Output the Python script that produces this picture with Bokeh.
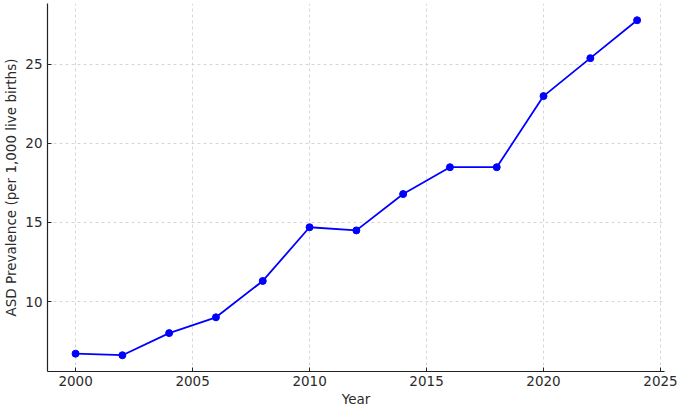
from bokeh.plotting import figure
from bokeh.models import Range1d, FixedTicker
from bokeh.embed import file_html
from bokeh.resources import INLINE

years = [2000, 2002, 2004, 2006, 2008, 2010, 2012, 2014, 2016, 2018, 2020, 2022, 2024]
prevalence = [6.7, 6.6, 8.0, 9.0, 11.3, 14.7, 14.5, 16.8, 18.5, 18.5, 23.0, 25.4, 27.8]
x_ticks = [2000, 2005, 2010, 2015, 2020, 2025]
y_ticks = [10, 15, 20, 25]

p = figure(width=685, height=414, output_backend="svg", toolbar_location=None,
           x_range=Range1d(1998.8, 2025.17), y_range=Range1d(5.57, 28.86),
           min_border_left=46, min_border_right=21, min_border_top=3, min_border_bottom=43)
p.outline_line_color = None
p.background_fill_color = "white"

p.line(years, prevalence, line_color="#0000ff", line_width=1.8)
p.scatter(years, prevalence, size=7, fill_color="#0000ff", line_color="#0000ff")

for ax in (p.xaxis, p.yaxis):
    ax.major_label_text_font = "DejaVu Sans"
    ax.major_label_text_font_size = "13.5px"
    ax.major_label_text_color = "#2b2b2b"
    ax.axis_label_text_font = "DejaVu Sans"
    ax.axis_label_text_font_size = "13.5px"
    ax.axis_label_text_font_style = "normal"
    ax.axis_label_text_color = "#2b2b2b"
    ax.axis_line_color = "#222222"
    ax.axis_line_width = 1.2
    ax.major_tick_in = 4
    ax.major_tick_out = 0
    ax.major_tick_line_color = "#222222"
    ax.minor_tick_line_color = None

p.xaxis.ticker = FixedTicker(ticks=x_ticks)
p.yaxis.ticker = FixedTicker(ticks=y_ticks)
p.xaxis.axis_label = "Year"
p.yaxis.axis_label = "ASD Prevalence (per 1,000 live births)"
p.xaxis.major_label_standoff = 4
p.xaxis.axis_label_standoff = 2
p.yaxis.major_label_standoff = 5
p.yaxis.axis_label_standoff = 3

for g in (p.xgrid, p.ygrid):
    g.grid_line_color = "#cccccc"
    g.grid_line_dash = "3 3"
    g.grid_line_width = 0.8

open("out.html", "w").write(file_html(p, INLINE))
